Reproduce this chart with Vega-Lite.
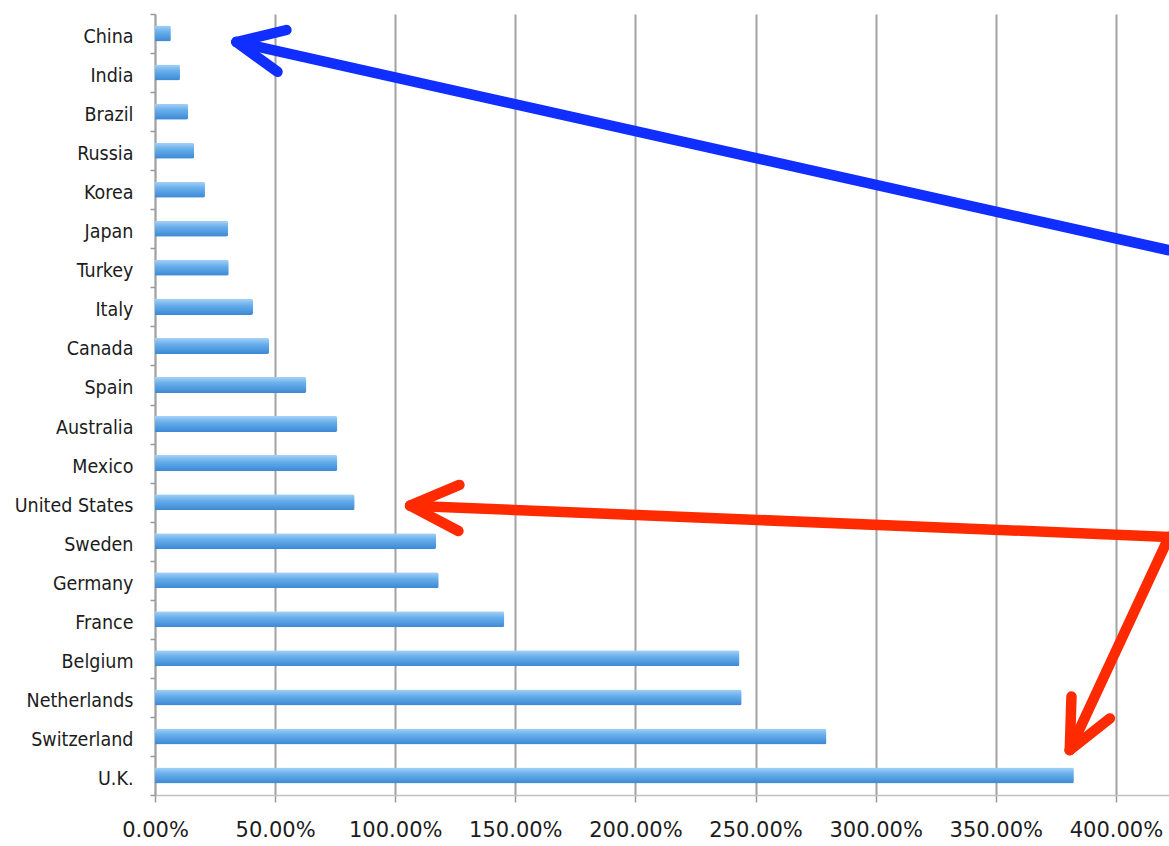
{
  "$schema": "https://vega.github.io/schema/vega-lite/v6.json",
  "autosize": {"type": "none"},
  "width": 1014,
  "height": 781,
  "padding": {"left": 155, "top": 14, "right": 0, "bottom": 51},
  "background": "white",
  "config": {
    "view": {"stroke": null},
    "font": "DejaVu Sans",
    "axis": {"labelColor": "#1c1c1c"}
  },
  "datasets": {
    "growth": [
      {"country": "China", "share": 0.066},
      {"country": "India", "share": 0.104},
      {"country": "Brazil", "share": 0.138},
      {"country": "Russia", "share": 0.163},
      {"country": "Korea", "share": 0.208},
      {"country": "Japan", "share": 0.304},
      {"country": "Turkey", "share": 0.307},
      {"country": "Italy", "share": 0.408},
      {"country": "Canada", "share": 0.475},
      {"country": "Spain", "share": 0.630},
      {"country": "Australia", "share": 0.759},
      {"country": "Mexico", "share": 0.759},
      {"country": "United States", "share": 0.831},
      {"country": "Sweden", "share": 1.170},
      {"country": "Germany", "share": 1.181},
      {"country": "France", "share": 1.454},
      {"country": "Belgium", "share": 2.433},
      {"country": "Netherlands", "share": 2.442},
      {"country": "Switzerland", "share": 2.795},
      {"country": "U.K.", "share": 3.825}
    ],
    "arrows": [
      {"arrow": "blue", "x": 4.221, "row": 6.05, "x2": 0.339, "row2": 0.717},
      {"arrow": "blue", "x": 0.547, "row": 0.41, "x2": 0.339, "row2": 0.717},
      {"arrow": "blue", "x": 0.510, "row": 1.48, "x2": 0.339, "row2": 0.717},
      {"arrow": "red", "x": 4.221, "row": 13.39, "x2": 1.062, "row2": 12.59},
      {"arrow": "red", "x": 1.267, "row": 12.06, "x2": 1.062, "row2": 12.59},
      {"arrow": "red", "x": 1.263, "row": 13.24, "x2": 1.062, "row2": 12.59},
      {"arrow": "red", "x": 4.221, "row": 13.39, "x2": 3.808, "row2": 18.85},
      {"arrow": "red", "x": 3.815, "row": 17.48, "x2": 3.808, "row2": 18.85},
      {"arrow": "red", "x": 3.975, "row": 18.04, "x2": 3.808, "row2": 18.85}
    ]
  },
  "layer": [
    {
      "data": {"name": "growth"},
      "mark": {
        "type": "bar",
        "size": 16,
        "cornerRadiusEnd": 2,
        "color": {
          "gradient": "linear",
          "x1": 0, "y1": 0, "x2": 0, "y2": 1,
          "stops": [
            {"offset": 0, "color": "#a6d2f6"},
            {"offset": 0.4, "color": "#68aeeb"},
            {"offset": 1, "color": "#3b88d4"}
          ]
        }
      },
      "encoding": {
        "y": {
          "field": "country",
          "type": "nominal",
          "sort": null,
          "scale": {"paddingInner": 0, "paddingOuter": 0},
          "axis": {
            "title": null,
            "tickBand": "extent",
            "tickSize": 5,
            "tickColor": "#9a9a9a",
            "tickWidth": 1.5,
            "domainColor": "#a0a0a0",
            "domainWidth": 1.5,
            "labelFont": "DejaVu Sans Condensed",
            "labelFontSize": 19.5,
            "labelPadding": 17,
            "labelOffset": 3,
            "grid": false
          }
        },
        "x": {
          "field": "share",
          "type": "quantitative",
          "scale": {"domain": [0, 4.221], "nice": false, "zero": true},
          "axis": {
            "title": null,
            "format": ".2%",
            "values": [0, 0.5, 1, 1.5, 2, 2.5, 3, 3.5, 4],
            "grid": true,
            "gridColor": "#a2a2a2",
            "gridWidth": 2,
            "tickSize": 7,
            "tickColor": "#9a9a9a",
            "tickWidth": 1.5,
            "domainColor": "#c0c0c0",
            "domainWidth": 1.5,
            "labelFont": "DejaVu Sans",
            "labelFontSize": 21,
            "labelPadding": 17,
            "labelFlush": false
          }
        }
      }
    },
    {
      "data": {"name": "arrows"},
      "mark": {"type": "rule", "strokeWidth": 10.5, "strokeCap": "round", "strokeJoin": "round"},
      "encoding": {
        "x": {"field": "x", "type": "quantitative", "scale": {"domain": [0, 4.221], "nice": false}},
        "x2": {"field": "x2"},
        "y": {"field": "row", "type": "quantitative", "scale": {"domain": [0, 20], "reverse": true}, "axis": null},
        "y2": {"field": "row2"},
        "color": {
          "field": "arrow",
          "type": "nominal",
          "scale": {"domain": ["blue", "red"], "range": ["#0f2eff", "#ff2a00"]},
          "legend": null
        }
      }
    }
  ],
  "resolve": {"scale": {"y": "independent"}}
}
